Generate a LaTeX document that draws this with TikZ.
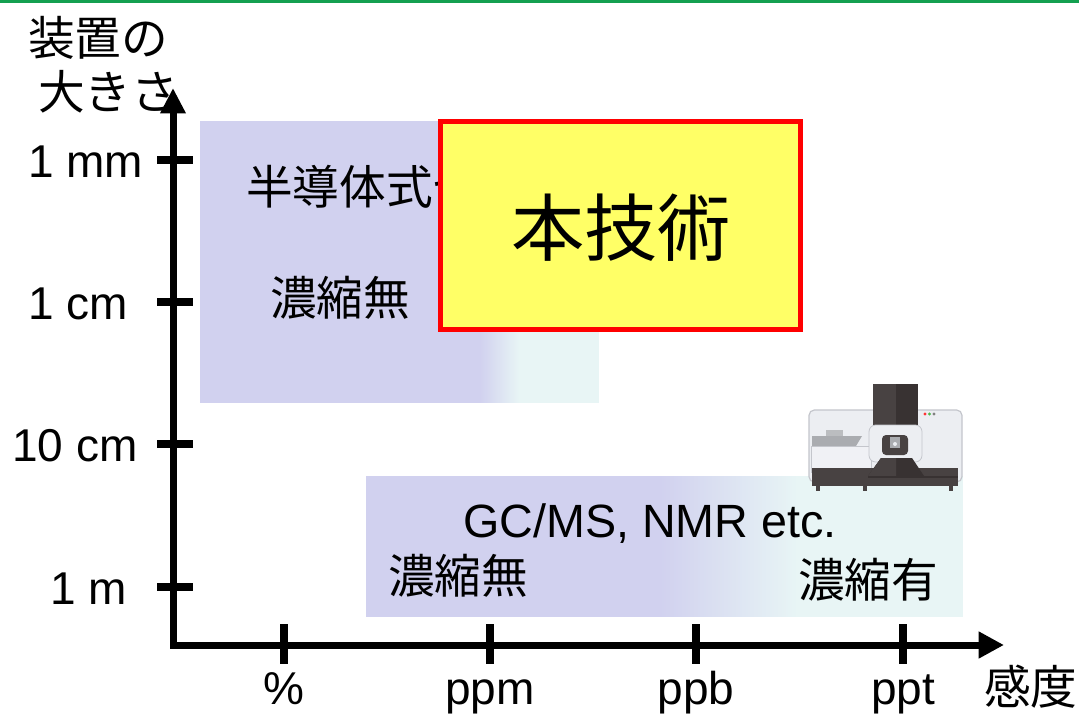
\documentclass[tikz,border=0pt]{standalone}
\usepackage{fontspec}
\setmainfont{Liberation Sans}
\newfontfamily\jp{Noto Sans CJK JP}
\usetikzlibrary{arrows.meta}
\definecolor{lav}{RGB}{209,209,239}
\definecolor{icy}{RGB}{232,245,245}
\definecolor{topgreen}{RGB}{20,160,80}
\definecolor{hiyellow}{RGB}{255,255,102}
\definecolor{devbody}{RGB}{236,238,242}
\definecolor{devedge}{RGB}{196,198,204}
\definecolor{devdark}{RGB}{72,66,66}
\definecolor{devdarker}{RGB}{56,50,50}
\definecolor{devgrey}{RGB}{170,172,176}
\begin{document}
\begin{tikzpicture}[x=0.75pt,y=-0.75pt,
  lbl/.style={inner sep=0pt,font=\fontsize{34.5}{38}\selectfont},
  jplbl/.style={inner sep=0pt,font=\jp\fontsize{35}{38}\selectfont},
  axis/.style={line width=5.25pt,line join=miter,
    {Triangle[length=19pt,width=18pt]}-{Triangle[length=19pt,width=19pt]}},
  tick/.style={line width=6pt}]
\useasboundingbox (0,0) rectangle (1079,714);
\fill[white] (0,0) rectangle (1079,714);
% header rule
\fill[topgreen] (0,0) rectangle (1079,3);

% upper range: no preconcentration (lavender fading to pale cyan)
\fill[lav] (200,121) rectangle (481,403);
\foreach \i in {0,...,39}{
  \pgfmathsetmacro\p{100-\i*100/39}
  \fill[lav!\p!icy] (480+\i,121) rectangle (481.6+\i,403);
}
\fill[icy] (520,121) rectangle (599,403);
\node[jplbl,anchor=base west] (semi) at (246,204) {半導体式センサ};
\node[jplbl,anchor=base west] (nc1) at (270,315) {濃縮無};

% lower range: GC/MS, NMR
\fill[lav] (366,476) rectangle (661,617);
\foreach \i in {0,...,69}{
  \pgfmathsetmacro\p{100-\i*100/69}
  \fill[lav!\p!icy] (660+2*\i,476) rectangle (662.6+2*\i,617);
}
\fill[icy] (800,476) rectangle (963,617);
\node[inner sep=0pt,font=\fontsize{35}{38}\selectfont,anchor=base] (gcms) at (650,537) {GC/MS, NMR etc.};
\node[jplbl,anchor=base west] (nc2) at (388,593) {濃縮無};
\node[jplbl,anchor=base west] (wc) at (798,597) {濃縮有};

% this technique
\node[draw=red,fill=hiyellow,line width=4pt,minimum width=270pt,
  minimum height=156pt,inner sep=0pt,outer sep=0pt] (tech) at (620.5,225.5) {};
\node[inner sep=0pt,font=\jp\fontsize{55}{60}\selectfont] (techtxt) at (621,228) {本技術};

% analytical instrument
\begin{scope}
  % main housing
  \filldraw[fill=devbody,draw=devedge,line width=0.9pt,rounded corners=4pt]
    (809,410) rectangle (962,482);
  % tower
  \fill[devdark] (873,384) rectangle (896,428);
  \fill[devdarker] (896,384) rectangle (918,428);
  \fill[red!80!white] (925,414) circle (1.6);
  \fill[green!60!black!70] (929.5,414) circle (1.6);
  \fill[gray] (934,414) circle (1.6);
  % sampler module
  \fill[devgrey!80] (826,430) rectangle (843,436);
  \fill[devgrey] (812,436) -- (862,436) -- (856,446) -- (812,446) -- cycle;
  \filldraw[fill=devbody!80!white,draw=devedge,line width=0.6pt] (811,446) rectangle (871,472);
  % window
  \filldraw[fill=devbody,draw=devedge,line width=0.6pt,rounded corners=5pt]
    (869,425) rectangle (922,462);
  \fill[devdark,rounded corners=3pt] (882,435) rectangle (908,455);
  \fill[devgrey] (890,437) rectangle (900,448);
  \fill[devbody] (895,444) circle (2);
  % base
  \fill[devdark] (812,468) rectangle (958,486);
  \fill[devdarker] (881,458) -- (912,458) -- (924,476) -- (868,476) -- cycle;
  \fill[devdark] (881,458) -- (896,458) -- (896,476) -- (868,476) -- cycle;
  \fill[devdarker] (868,476) rectangle (958,478);
  \fill[devdark] (816,486) rectangle (820,491);
  \fill[devdark] (863,486) rectangle (867,491);
  \fill[devdark] (949,486) rectangle (953,491);
\end{scope}

% axes
\coordinate (ytop) at (173,88);
\coordinate (origin) at (173,645);
\coordinate (xend) at (1004,645);
\draw[axis] (ytop) -- (origin) -- (xend);

% size ticks
\foreach \yy/\nm/\txt/\lx in {160/mm/1 mm/28, 302/cm/1 cm/28, 444/tcm/10 cm/12, 587/m/1 m/50}{
  \coordinate (ya\nm) at (157,\yy);
  \coordinate (yb\nm) at (193,\yy);
  \draw[tick] (ya\nm) -- (yb\nm);
  \node[lbl,anchor=base west] (yl\nm) at (\lx,\yy+17) {\txt};
}
% sensitivity ticks
\foreach \xx/\nm/\txt in {284/pc/\%, 490/ppm/ppm, 696/ppb/ppb, 903/ppt/ppt}{
  \coordinate (xa\nm) at (\xx,624);
  \coordinate (xb\nm) at (\xx,664);
  \draw[tick] (xa\nm) -- (xb\nm);
  \node[lbl,anchor=base] (xl\nm) at (\xx,704) {\txt};
}

% axis titles
\node[jplbl,anchor=base west] (ttl1) at (28,55) {装置の};
\node[jplbl,anchor=base west] (ttl2) at (38,109) {大きさ};
\node[jplbl,anchor=base west] (ttlx) at (984,704) {感度};
\end{tikzpicture}
\end{document}
